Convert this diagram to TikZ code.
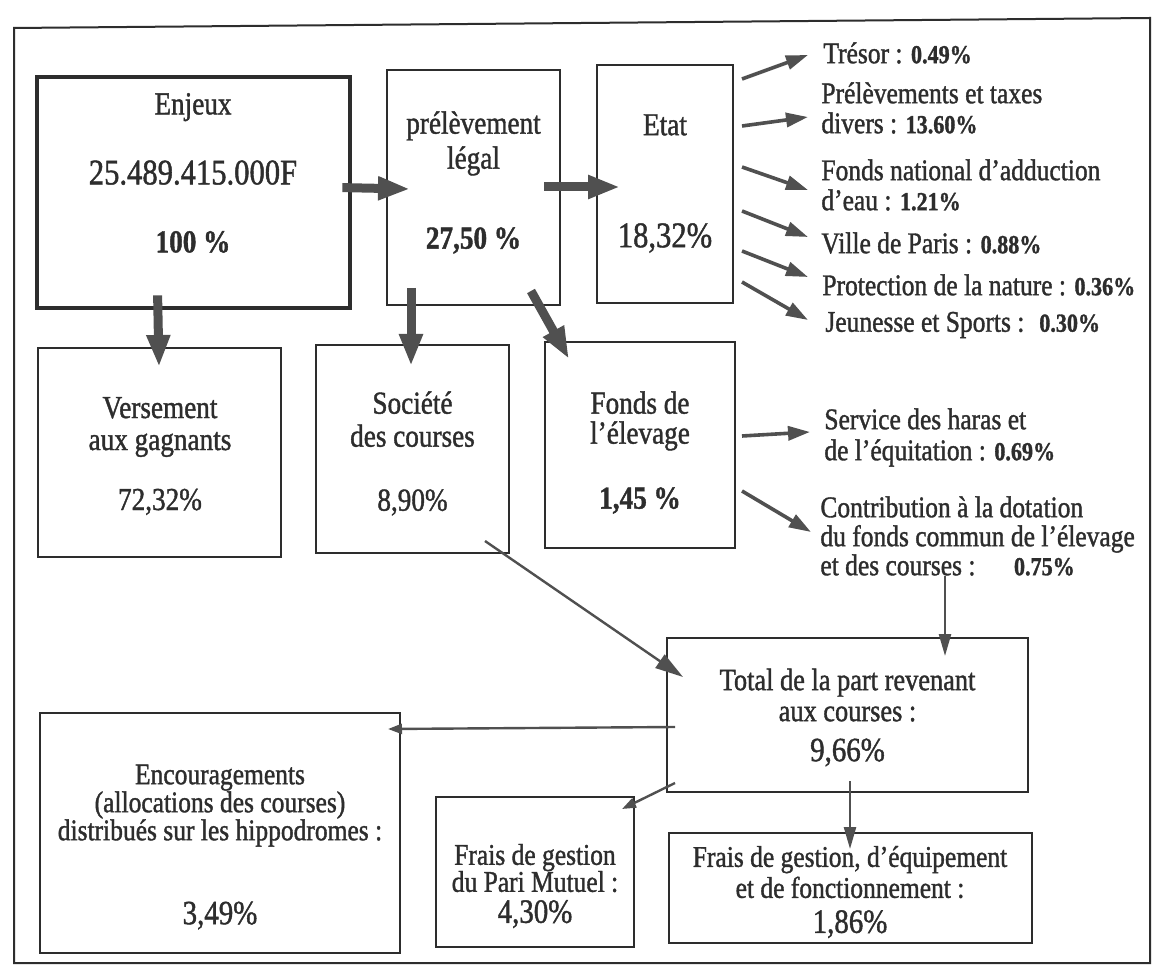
\documentclass[tikz,border=0pt]{standalone}
\usepackage{fontspec}
\setmainfont[FakeStretch=0.85,FakeBold=1.2]{Liberation Serif}
\usetikzlibrary{arrows.meta}
\definecolor{inkgray}{RGB}{45,45,45}
\definecolor{arrowgray}{RGB}{80,80,80}
\newcommand{\sidepct}[1]{{\fontsize{13}{13}\selectfont\bfseries #1\%}}
\newcommand{\bignum}[1]{{\fontsize{17}{17}\selectfont #1}}
\newcommand{\hugenum}[1]{{\fontsize{18}{18}\selectfont #1}}

\begin{document}
\begin{tikzpicture}[
  x=0.5pt, y=-0.5pt,
  box/.style={draw=inkgray, line width=1pt, inner sep=0pt},
  bigtxt/.style={font=\fontsize{16}{18}\selectfont, align=center, text=inkgray},
  midtxt/.style={font=\fontsize{15}{16}\selectfont, align=center, text=inkgray},
  sidetxt/.style={font=\fontsize{15}{15}\selectfont, align=left, anchor=west,
                  inner sep=0pt, text=inkgray},
  bigarr/.style={-{Triangle[length=16pt,width=11pt]}, line width=4.5pt, arrowgray},
  midarr/.style={-{Triangle[length=11pt,width=7pt]}, line width=1.8pt, arrowgray},
  thinarr/.style={-{Triangle[length=11pt,width=6pt]}, line width=1.2pt, arrowgray},
  longarr/.style={-{Triangle[length=14pt,width=8pt]}, line width=1.2pt, arrowgray},
  smallarr/.style={-{Triangle[length=7pt,width=5pt]}, line width=1.2pt, arrowgray}
]
\useasboundingbox[fill=white] (0,0) rectangle (1160,967);
\draw[inkgray, line width=1pt] (14,28) -- (1150,18) -- (1150,963) -- (14,963) -- cycle;

%% boxes
\node[box, line width=2.4pt, minimum width=156.5pt, minimum height=115.5pt] (enjeux) at (193.5,192.5) {};
\node[box, minimum width=86.5pt, minimum height=117.5pt] (prelev)    at (473.5,187.5) {};
\node[box, minimum width=68pt,   minimum height=119pt]   (etat)      at (665,184)     {};
\node[box, minimum width=121.5pt,minimum height=104.5pt] (versement) at (159.5,452.5) {};
\node[box, minimum width=96.5pt, minimum height=104pt]   (societe)   at (412.5,449)   {};
\node[box, minimum width=95pt,   minimum height=103pt]   (fonds)     at (640,445)     {};
\node[box, minimum width=180.5pt,minimum height=77pt]    (total)     at (847.5,715)   {};
\node[box, minimum width=180pt,  minimum height=120pt]   (encour)    at (220,833)     {};
\node[box, minimum width=99pt,   minimum height=75pt]    (pari)      at (535,872)     {};
\node[box, minimum width=181.5pt,minimum height=55pt]    (equip)     at (850.5,888)   {};

%% box texts
\node[bigtxt] (enjeuxtxt) at (193,173) {Enjeux\\[17pt]\hugenum{25.489.415.000F}\\[16pt]\textbf{100 \%}};
\node[bigtxt] (prelevtxt) at (473.5,182.5) {prélèvement\\[-0.5pt]légal\\[22pt]\textbf{27,50 \%}};
\node[bigtxt] (etattxt) at (665,183.5) {Etat\\[38pt]\hugenum{18,32\%}};
\node[bigtxt] (versementtxt) at (160,456) {Versement\\[-2pt]aux gagnants\\[12pt]72,32\%};
\node[bigtxt] (societetxt) at (412.5,453.5) {Société\\[-1.5pt]des courses\\[14pt]8,90\%};
\node[bigtxt] (fondstxt) at (640,452.5) {Fonds de\\[-3pt]l’élevage\\[14.5pt]\textbf{1,45 \%}};
\node[midtxt, font=\fontsize{15.5}{16}\selectfont] (totaltxt) at (847.5,717.5)
  {Total de la part revenant\\[-0.5pt]aux courses :\\[4pt]\bignum{9,66\%}};
\node[midtxt] (encourtxt) at (220,847)
  {Encouragements\\[-2pt](allocations des courses)\\[-2pt]distribués sur les hippodromes :\\[26pt]\bignum{3,49\%}};
\node[midtxt] (paritxt) at (535,886) {Frais de gestion\\[-2.5pt]du Pari Mutuel :\\[-0.5pt]\bignum{4,30\%}};
\node[midtxt] (equiptxt) at (850,892) {Frais de gestion, d’équipement\\[-0.5pt]et de fonctionnement :\\[1.5pt]\bignum{1,86\%}};

%% side labels
\node[sidetxt] (tresor)   at (823,53)  {Trésor : \sidepct{0.49}};
\node[sidetxt] (taxes)    at (821,108) {Prélèvements et taxes\\divers : \sidepct{13.60}};
\node[sidetxt] (fnae)     at (821,185) {Fonds national d’adduction\\d’eau : \sidepct{1.21}};
\node[sidetxt] (ville)    at (821,243) {Ville de Paris : \sidepct{0.88}};
\node[sidetxt] (nature)   at (822,285) {Protection de la nature : \sidepct{0.36}};
\node[sidetxt] (jeunesse) at (825,325) {Jeunesse et Sports : \ \sidepct{0.30}};
\node[sidetxt, font=\fontsize{15}{15.5}\selectfont] (haras) at (824,437.5) {Service des haras et\\de l’équitation : \sidepct{0.69}};
\node[sidetxt, font=\fontsize{15}{14.5}\selectfont] (dotation) at (820,536) {Contribution à la dotation\\du fonds commun de l’élevage\\et des courses : \quad\sidepct{0.75}};

%% main flows
\draw[bigarr] ([shift={(-10,113)}]enjeux.north east) -- ([shift={(24,120)}]prelev.north west);
\draw[bigarr] ([shift={(-17,118)}]prelev.north east) -- ([shift={(24,123)}]etat.north west);
\draw[bigarr] ([shift={(123,-15)}]enjeux.south west) -- ([shift={(122,20)}]versement.north west);
\draw[bigarr] ([shift={(25,-18)}]prelev.south west) -- ([shift={(96,22)}]societe.north west);
\draw[bigarr] ([shift={(-30,-15)}]prelev.south east) -- ([shift={(25,18)}]fonds.north west);

%% shares of the state
\draw[midarr] ([shift={(8,15)}]etat.north east)  -- ([shift={(-15,2)}]tresor.west);
\draw[midarr] ([shift={(8,62)}]etat.north east)  -- ([shift={(-13,9)}]taxes.west);
\draw[midarr] ([shift={(8,103)}]etat.north east) -- ([shift={(-13,5)}]fnae.west);
\draw[midarr] ([shift={(8,147)}]etat.north east) -- ([shift={(-13,-6)}]ville.west);
\draw[midarr] ([shift={(8,187)}]etat.north east) -- ([shift={(-14,-8)}]nature.west);
\draw[midarr] ([shift={(8,218)}]etat.north east) -- ([shift={(-17,-5)}]jeunesse.west);
\draw[midarr] ([shift={(6,95)}]fonds.north east)  -- ([shift={(-14,-5.5)}]haras.west);
\draw[midarr] ([shift={(6,150)}]fonds.north east) -- ([shift={(-9,-4)}]dotation.west);

%% racing share
\draw[thinarr] ([xshift=48.75pt]total.north |- dotation.south) -- ([shift={(97.5,19)}]total.north);
\draw[longarr] ([shift={(-25,-13)}]societe.south east) -- ([shift={(17,40)}]total.north west);
\draw[smallarr] ([shift={(9,12)}]total.west) -- ([shift={(-13,17)}]encour.north east);
\draw[smallarr] ([shift={(9,-10)}]total.south west) -- ([shift={(-13,13)}]pari.north east);
\draw[thinarr] ([shift={(2.5,-12)}]total.south) -- ([shift={(-0.5,17)}]equip.north);
\end{tikzpicture}
\end{document}
